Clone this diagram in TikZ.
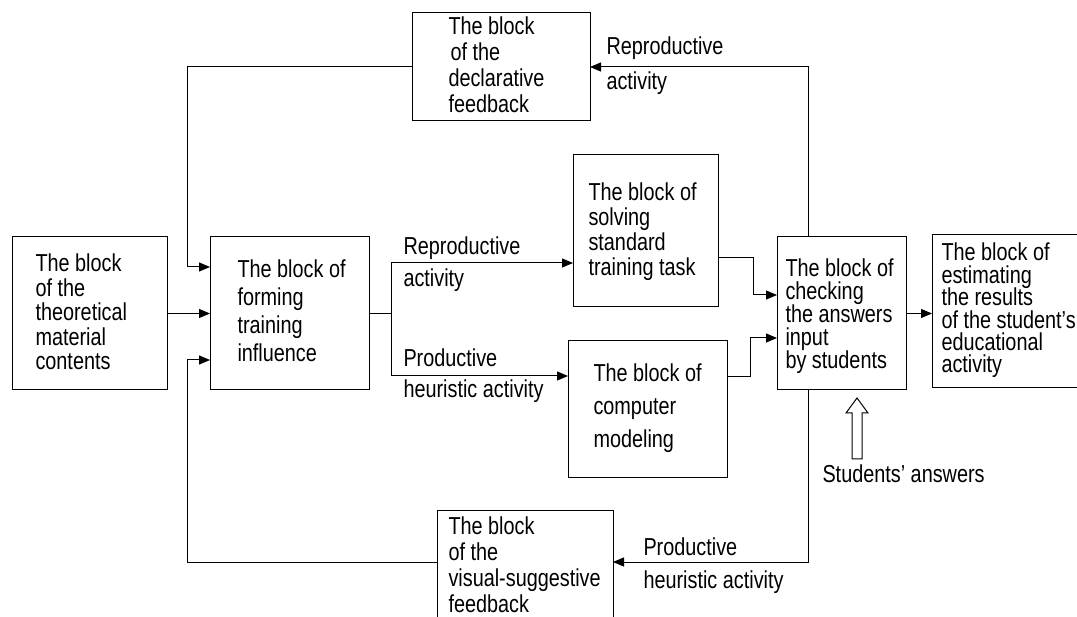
\documentclass[tikz,border=0pt]{standalone}
\usepackage{fontspec}
\setmainfont[FakeStretch=0.81]{Liberation Sans}
\usetikzlibrary{arrows.meta,calc}

% multi-line block caption; first baseline is the node's base
\newcommand{\blocktext}[2]{\parbox[t]{8cm}{\setlength{\baselineskip}{#1pt}\setlength{\lineskip}{0pt}\setlength{\lineskiplimit}{-100pt}\raggedright #2}}

\begin{document}
\begin{tikzpicture}[x=1pt,y=-1pt,line width=1pt,
  blk/.style={draw,inner sep=0pt,outer sep=0pt,anchor=north west},
  txt/.style={anchor=base west,inner sep=0pt,font=\fontsize{24.5}{26}\selectfont},
  arr/.style={-{Triangle[length=11pt,width=9pt]}}]
\useasboundingbox (0,0) rectangle (1077,617);
\fill[white] (0,0) rectangle (1077,617);

% blocks
\node[blk,minimum width=155pt,minimum height=153pt] (b1) at (12,237) {};
\node[blk,minimum width=159pt,minimum height=153pt] (b2) at (210,237) {};
\node[blk,minimum width=145pt,minimum height=152pt] (b3) at (573,155) {};
\node[blk,minimum width=159pt,minimum height=137pt] (b4) at (568,341) {};
\node[blk,minimum width=129pt,minimum height=153pt] (b5) at (777,237) {};
\node[blk,minimum width=160pt,minimum height=153pt] (b6) at (932,235) {};
\node[blk,minimum width=178pt,minimum height=108pt] (b7) at (412,13) {};
\node[blk,minimum width=176pt,minimum height=112pt] (b8) at (437,511) {};

% block captions
\node[txt] (t1) at (35,272) {\blocktext{24.5}{The block\\of the\\theoretical\\material\\contents}};
\node[txt] (t2) at (237,278) {\blocktext{28}{The block of\\forming\\training\\influence}};
\node[txt] (t3) at (588,201) {\blocktext{25}{The block of\\solving\\standard\\training task}};
\node[txt] (t4) at (593,382) {\blocktext{33}{The block of\\computer\\modeling}};
\node[txt] (t5) at (785,277) {\blocktext{23}{The block of\\checking\\the answers\\input\\by students}};
\node[txt] (t6) at (941,261) {\blocktext{22.4}{The block of\\estimating\\the results\\of the student’s\\educational\\activity}};
\node[txt] (t7) at (448,35) {\blocktext{25.7}{The block\\\hspace*{2pt}of the\\declarative\\feedback}};
\node[txt] (t8) at (448,534) {\blocktext{26}{The block\\of the\\visual-suggestive\\feedback}};

% connector labels
\node[txt] (l1) at (403,255) {Reproductive};
\node[txt] (l2) at (403,287) {activity};
\node[txt] (l3) at (403,367) {Productive};
\node[txt] (l4) at (403,398) {heuristic activity};
\node[txt] (l5) at (606,55) {Reproductive};
\node[txt] (l6) at (606,90) {activity};
\node[txt] (l7) at (643,555) {Productive};
\node[txt] (l8) at (643,588) {heuristic activity};
\node[txt] (l9) at (822,483) {Students’ answers};

% connection points
\coordinate (j1) at (391,313.5);
\coordinate (in3) at (573,263);
\coordinate (in4) at (568,376);
\coordinate (o3) at (718,258);
\coordinate (k3) at (753,295);
\coordinate (in5a) at (777,295);
\coordinate (o4) at (727,377);
\coordinate (k4) at (750,338);
\coordinate (in5b) at (777,338);
\coordinate (up5) at (808,237);
\coordinate (dn5) at (808,390);
\coordinate (e8) at (613,562);
\coordinate (w8) at (437,562);
\coordinate (v1) at (187,267);
\coordinate (in2a) at (210,267);
\coordinate (v2) at (187,360);
\coordinate (in2b) at (210,360);

% connectors
\draw[arr] (b1.east) -- (b1.east -| b2.west);
\draw (b2.east) -- (j1);
\draw[arr] (j1) |- (in3);
\draw[arr] (j1) |- (in4);
\draw[arr] (o3) -| (k3) -- (in5a);
\draw[arr] (o4) -| (k4) -- (in5b);
\draw[arr] (b5.east) -- (b5.east -| b6.west);
\draw[arr] (up5) |- (b7.east);
\draw[arr] (dn5) |- (e8);
\draw[arr] (b7.west) -| (v1) -- (in2a);
\draw[arr] (w8) -| (v2) -- (in2b);

% hollow input arrow
\draw[fill=white] (852,459) -- (852,413) -- (846,413) -- (857,398) -- (868,413) -- (862,413) -- (862,459) -- cycle;
\end{tikzpicture}
\end{document}
